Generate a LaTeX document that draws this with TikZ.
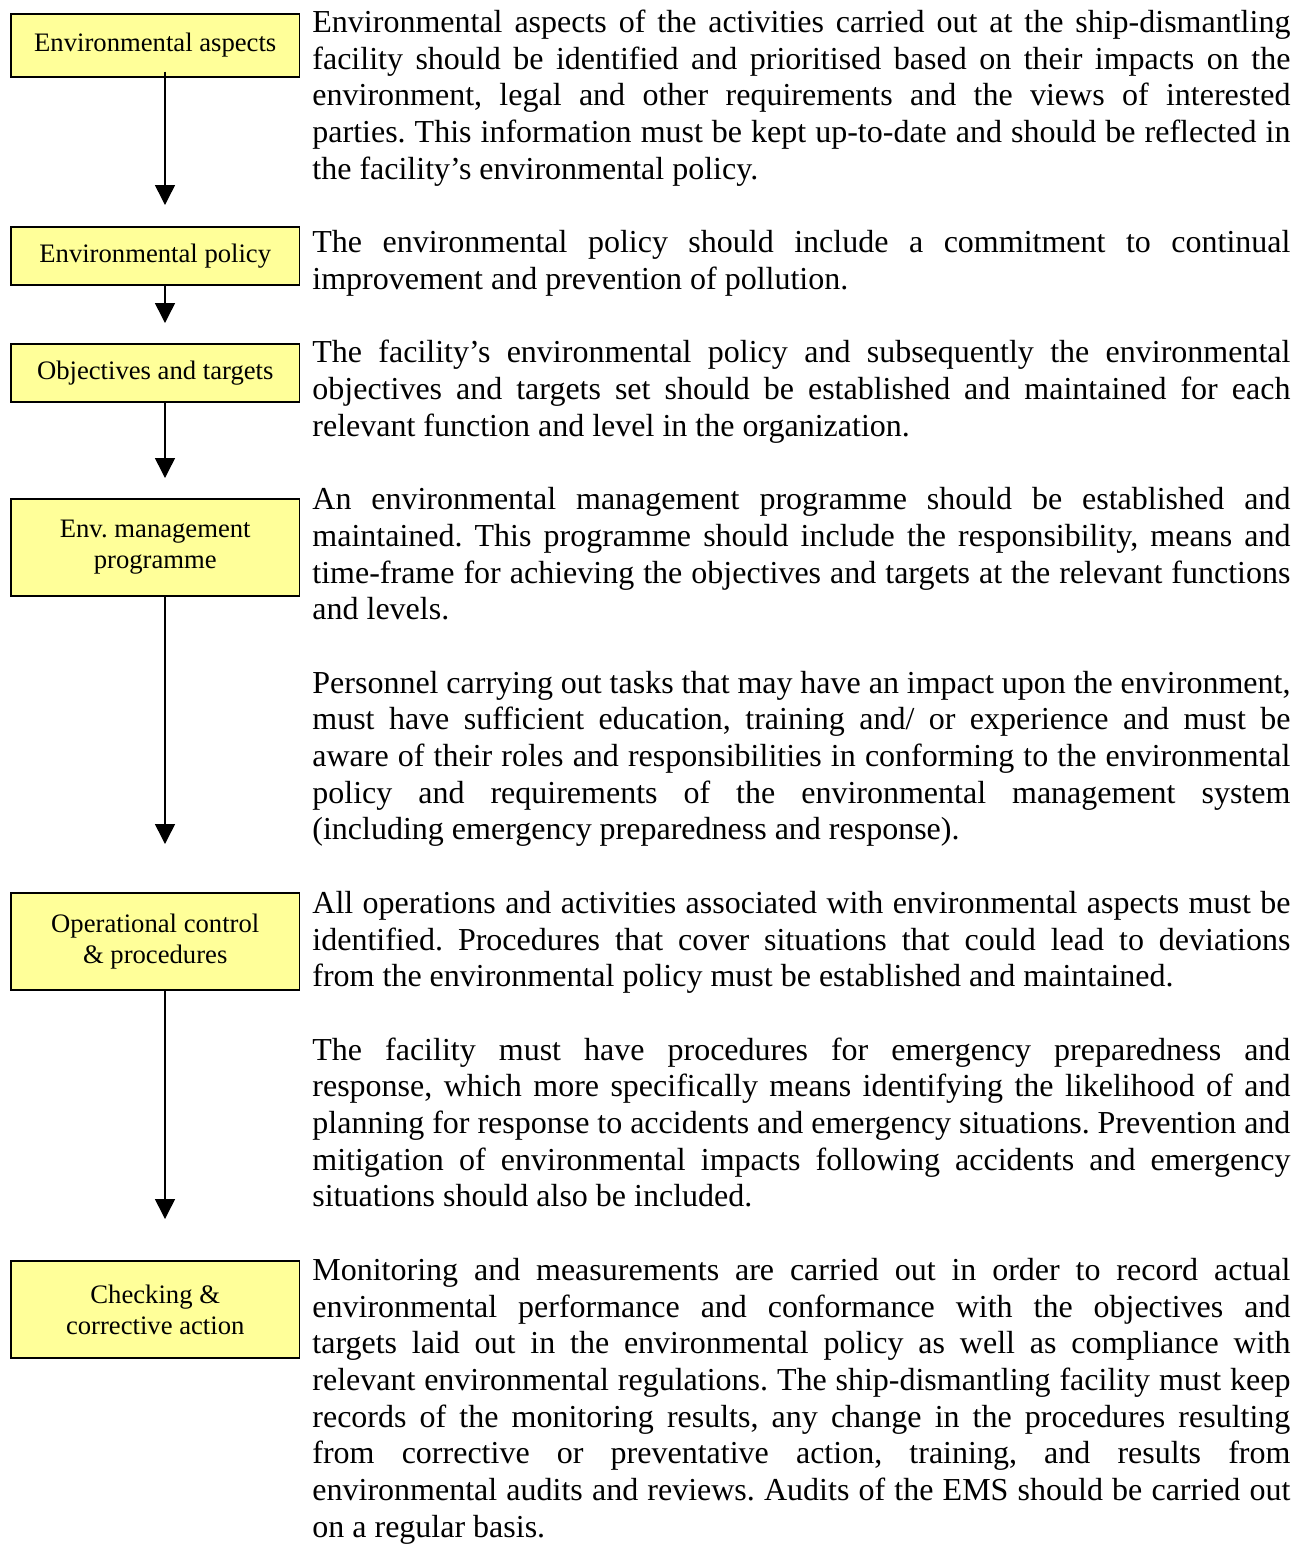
\documentclass[tikz,border=0pt]{standalone}
\usepackage{fontspec}
\setmainfont{Liberation Serif}
\usetikzlibrary{arrows.meta}
\definecolor{boxyellow}{HTML}{FFFF99}
\hyphenpenalty=10000
\exhyphenpenalty=10000
\tolerance=10000
\frenchspacing
\begin{document}
\begin{tikzpicture}[x=0.5pt,y=-0.5pt,
    box/.style={draw=black, line width=0.7pt, fill=boxyellow, minimum width=144.25pt,
        inner sep=2pt, align=center, font=\fontsize{13.33}{15.5}\selectfont},
    para/.style={anchor=base west, inner sep=0pt, text width=489pt, align=justify,
        font=\fontsize{16}{18.35}\selectfont},
    flow/.style={-{Triangle[length=10pt,width=10pt]}, line width=0.75pt}]
    \useasboundingbox (0,0) rectangle (1309,1544);
    % boxes on the left
    \node[box, minimum height=31.5pt] (aspects)    at (155.25,45.5)  {Environmental aspects};
    \node[box, minimum height=29pt]   (policy)     at (155.25,256)   {Environmental policy};
    \node[box, minimum height=29pt]   (objectives) at (155.25,373)   {Objectives and targets};
    \node[box, minimum height=48.5pt] (programme)  at (155.25,547.5) {Env. management\\programme};
    \node[box, minimum height=48.5pt] (operation)  at (155.25,941.5) {Operational control\\\& procedures};
    \node[box, minimum height=48.5pt] (checking)   at (155.25,1309.5){Checking \&\\corrective action};
    % arrow ends
    \coordinate (t1) at (165,205);
    \coordinate (t2) at (165,323);
    \coordinate (t3) at (165,478);
    \coordinate (t4) at (165,844);
    \coordinate (t5) at (165,1219);
    \draw[flow, shorten <=-3pt] (aspects.south -| t1) -- (t1);
    \draw[flow] (policy.south -| t2)     -- (t2);
    \draw[flow] (objectives.south -| t3) -- (t3);
    \draw[flow] (programme.south -| t4)  -- (t4);
    \draw[flow] (operation.south -| t5)  -- (t5);
    % text on the right
    \node[para] (p1) at (312,32.5) {Environmental aspects of the activities carried out at the ship-dismantling\linebreak
        facility should be identified and prioritised based on their impacts on the\linebreak
        environment, legal and other requirements and the views of interested\linebreak
        parties. This information must be kept up-to-date and should be reflected in\linebreak
        the facility’s environmental policy.};
    \node[para] (p2) at (312,252.7) {The environmental policy should include a commitment to continual\linebreak
        improvement and prevention of pollution.};
    \node[para] (p3) at (312,362.8) {The facility’s environmental policy and subsequently the environmental\linebreak
        objectives and targets set should be established and maintained for each\linebreak
        relevant function and level in the organization.};
    \node[para] (p4) at (312,509.6) {An environmental management programme should be established and\linebreak
        maintained. This programme should include the responsibility, means and\linebreak
        time-frame for achieving the objectives and targets at the relevant functions\linebreak
        and levels.};
    \node[para] (p5) at (312,693.1) {Personnel carrying out tasks that may have an impact upon the environment,\linebreak
        must have sufficient education, training and/ or experience and must be\linebreak
        aware of their roles and responsibilities in conforming to the environmental\linebreak
        policy and requirements of the environmental management system\linebreak
        (including emergency preparedness and response).};
    \node[para] (p6) at (312,913.3) {All operations and activities associated with environmental aspects must be\linebreak
        identified. Procedures that cover situations that could lead to deviations\linebreak
        from the environmental policy must be established and maintained.};
    \node[para] (p7) at (312,1060.1) {The facility must have procedures for emergency preparedness and\linebreak
        response, which more specifically means identifying the likelihood of and\linebreak
        planning for response to accidents and emergency situations. Prevention and\linebreak
        mitigation of environmental impacts following accidents and emergency\linebreak
        situations should also be included.};
    \node[para] (p8) at (312,1280.3) {Monitoring and measurements are carried out in order to record actual\linebreak
        environmental performance and conformance with the objectives and\linebreak
        targets laid out in the environmental policy as well as compliance with\linebreak
        relevant environmental regulations. The ship-dismantling facility must keep\linebreak
        records of the monitoring results, any change in the procedures resulting\linebreak
        from corrective or preventative action, training, and results from\linebreak
        environmental audits and reviews. Audits of the EMS should be carried out\linebreak
        on a regular basis.};
\end{tikzpicture}
\end{document}
